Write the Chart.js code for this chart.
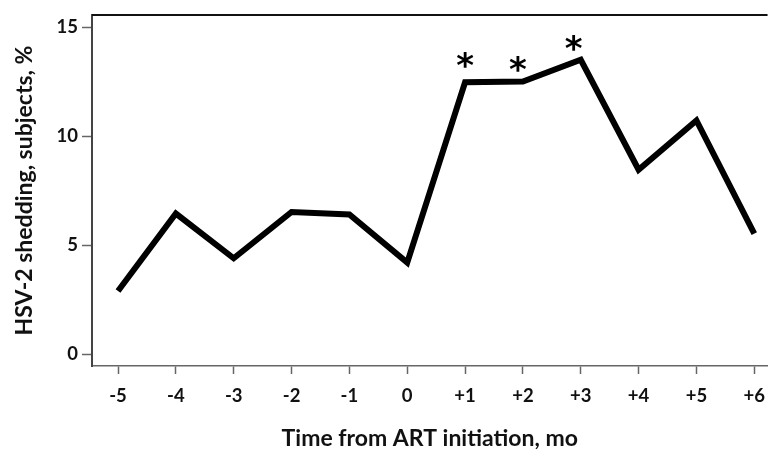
<!DOCTYPE html>
<html>
<head>
<meta charset="utf-8">
<script src="https://cdn.jsdelivr.net/npm/chart.js@4/dist/chart.umd.min.js"></script>
<style>
  html, body { margin: 0; padding: 0; background: #fff; }
  #wrap { width: 776px; height: 452px; }
</style>
</head>
<body>
<div id="wrap"><canvas id="chart"></canvas></div>
<script>
// months relative to ART initiation
const months = [-5, -4, -3, -2, -1, 0, 1, 2, 3, 4, 5, 6];
// % of subjects shedding HSV-2
const shedding = [2.9, 6.45, 4.4, 6.52, 6.41, 4.2, 12.47, 12.5, 13.5, 8.46, 10.72, 5.53];
// significance marks above points
const marks = ['', '', '', '', '', '', '*', '*', '*', '', '', ''];
const yTicks = [0, 5, 10, 15];

const tickFont = { family: 'Lato', size: 18.5, weight: 'bold' };
const titleFont = { family: 'Lato', size: 23, weight: 'bold' };

// top frame line + asterisks
const extras = {
  id: 'extras',
  afterDatasetsDraw(chart) {
    const { ctx, chartArea } = chart;
    ctx.save();
    ctx.strokeStyle = '#111';
    ctx.lineWidth = 2;
    ctx.beginPath();
    ctx.moveTo(chartArea.left, chartArea.top);
    ctx.lineTo(chartArea.right, chartArea.top);
    ctx.stroke();

    const xs = chart.scales.x, ys = chart.scales.y;
    ctx.fillStyle = '#000';
    ctx.font = 'bold 34px "DejaVu Sans"';
    ctx.textAlign = 'center';
    ctx.textBaseline = 'middle';
    const shift = [0, -5, -7];
    let k = 0;
    marks.forEach((m, i) => {
      if (!m) return;
      const px = xs.getPixelForValue(months[i]) + shift[k];
      const py = ys.getPixelForValue(shedding[i]) - (k === 0 ? 14 : 9);
      ctx.fillText(m, px, py);
      k++;
    });
    ctx.restore();
  }
};

new Chart(document.getElementById('chart'), {
  type: 'line',
  data: {
    datasets: [{
      data: months.map((m, i) => ({ x: m, y: shedding[i] })),
      borderColor: '#000',
      borderWidth: 6,
      borderJoinStyle: 'miter',
      pointRadius: 0,
      tension: 0
    }]
  },
  options: {
    responsive: true,
    maintainAspectRatio: false,
    animation: false,
    layout: { padding: { top: 10, right: 0, left: 0, bottom: 0 } },
    plugins: { legend: { display: false }, tooltip: { enabled: false } },
    scales: {
      x: {
        type: 'linear',
        min: -5.45,
        max: 6.23,
        afterBuildTicks: (s) => { s.ticks = months.map(v => ({ value: v })); },
        afterFit: (s) => { s.height = 86; },
        ticks: {
          color: '#111',
          font: tickFont,
          padding: 11,
          maxRotation: 0,
          callback: (v) => v > 0 ? '+' + v : String(v)
        },
        grid: { drawOnChartArea: false, tickLength: 8, color: '#666', tickWidth: 1.5 },
        border: { color: '#666', width: 1.5 },
        title: { display: true, text: 'Time from ART initiation, mo', color: '#111', font: titleFont, padding: { top: 0, bottom: 0 } }
      },
      y: {
        min: -0.54,
        max: 15.55,
        afterBuildTicks: (s) => { s.ticks = yTicks.map(v => ({ value: v })); },
        afterFit: (s) => { s.width = 92; },
        ticks: { color: '#111', font: tickFont, padding: 4 },
        grid: { drawOnChartArea: false, tickLength: 10, color: '#666', tickWidth: 1.5 },
        border: { color: '#444', width: 2 },
        title: { display: true, text: 'HSV-2 shedding, subjects, %', color: '#111', font: titleFont, padding: { top: 11, bottom: 0 } }
      }
    }
  },
  plugins: [extras]
});
</script>
</body>
</html>
